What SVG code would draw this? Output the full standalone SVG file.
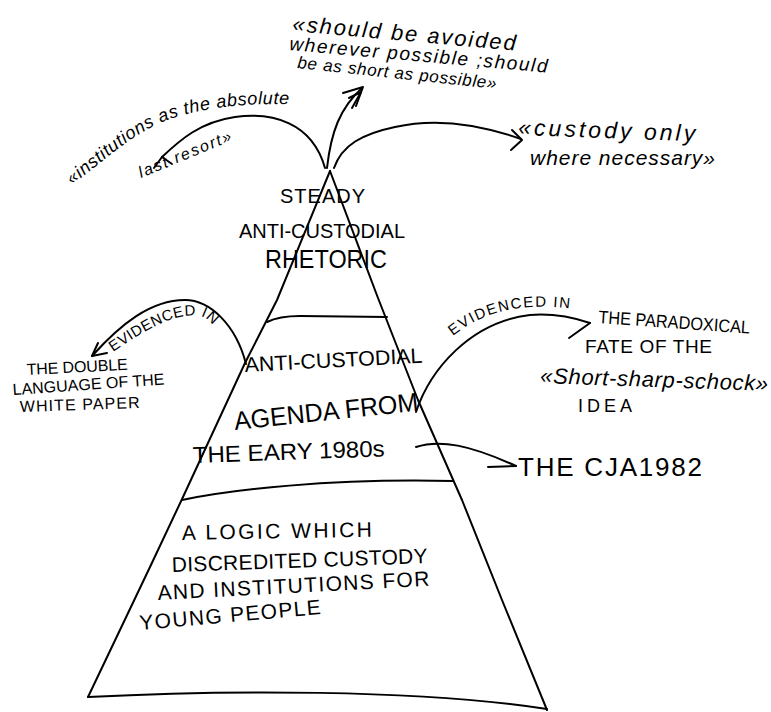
<svg xmlns="http://www.w3.org/2000/svg" width="771" height="712" viewBox="0 0 771 712">
  <style>
    .ink { fill: none; stroke: #000; stroke-width: 2; stroke-linecap: round; stroke-linejoin: round; }
    .caps { font-family: "Liberation Sans", "DejaVu Sans", sans-serif; fill: #000; }
    .hand { font-family: "Liberation Sans", "DejaVu Sans", sans-serif; font-style: italic; fill: #000; }
  </style>
  <defs>
    <path id="p-last-resort-1" d="M 72,185 C 104,161 132,133 170,119 C 209,106 255,102 302,105"/>
    <path id="p-last-resort-2" d="M 141,178 L 255,131"/>
    <path id="p-evid-left" d="M 113,352 C 145,330 175,312 200,316 C 208,318 214,325 220,336"/>
    <path id="p-evid-right" d="M 453,336 C 480,314 520,299 585,311"/>
  </defs>

  <rect width="771" height="712" fill="#fff"/>

  <!-- pyramid outline and tier dividers -->
  <g id="pyramid">
    <path class="ink" d="M 330,171 L 277,300 L 245,363 L 183,497 L 150,567 L 88,697"/>
    <path class="ink" d="M 330,171 L 378,298 L 418,400 L 462,500 L 502,600 L 547,710"/>
    <path class="ink" d="M 88,697 C 220,690 420,689 547,709"/>
    <path class="ink" d="M 267,322 Q 279,316 300,316 L 387,317"/>
    <path class="ink" d="M 182,500 C 230,490 330,478 453,481"/>
  </g>

  <!-- top tier -->
  <g id="tier-rhetoric">
    <text class="caps" x="280" y="203" font-size="20" textLength="85">STEADY</text>
    <text class="caps" x="239" y="238" font-size="20" textLength="166">ANTI-CUSTODIAL</text>
    <text class="caps" x="265" y="268" font-size="25" textLength="122" lengthAdjust="spacingAndGlyphs">RHETORIC</text>
  </g>

  <!-- middle tier -->
  <g id="tier-agenda">
    <text class="caps" x="245" y="372" font-size="21" textLength="178" lengthAdjust="spacingAndGlyphs" transform="rotate(-3 245 372)">ANTI-CUSTODIAL</text>
    <text class="caps" x="235" y="430" font-size="26" textLength="185" lengthAdjust="spacingAndGlyphs" transform="rotate(-6 235 430)">AGENDA FROM</text>
    <text class="caps" x="193" y="463" font-size="23" textLength="192" lengthAdjust="spacingAndGlyphs" transform="rotate(-2 193 463)">THE EARY 1980s</text>
  </g>

  <!-- bottom tier -->
  <g id="tier-logic">
    <text class="caps" x="182" y="540" font-size="21" textLength="190" transform="rotate(-1 182 540)">A LOGIC WHICH</text>
    <text class="caps" x="172" y="572" font-size="21" textLength="256" transform="rotate(-2 172 572)">DISCREDITED CUSTODY</text>
    <text class="caps" x="158" y="600" font-size="21" textLength="272" transform="rotate(-3 158 600)">AND INSTITUTIONS FOR</text>
    <text class="caps" x="140" y="630" font-size="21" textLength="182" transform="rotate(-5 140 630)">YOUNG PEOPLE</text>
  </g>

  <!-- quotes above the apex -->
  <g id="quote-last-resort">
    <text class="hand" font-size="18" letter-spacing="0.6"><textPath href="#p-last-resort-1">«institutions as the absolute</textPath></text>
    <text class="hand" font-size="16" letter-spacing="1.8"><textPath href="#p-last-resort-2">last resort»</textPath></text>
  </g>
  <g id="quote-avoided">
    <text class="hand" x="292" y="31" font-size="22" textLength="224" transform="rotate(5 292 31)">«should be avoided</text>
    <text class="hand" x="289" y="50" font-size="19" textLength="259" transform="rotate(5 289 50)">wherever possible ;should</text>
    <text class="hand" x="297" y="68" font-size="17" textLength="200" transform="rotate(6 297 68)">be as short as possible»</text>
  </g>
  <g id="quote-custody">
    <text class="hand" x="518" y="135" font-size="23" textLength="177" transform="rotate(2 518 135)">«custody only</text>
    <text class="hand" x="530" y="165" font-size="21" textLength="185">where necessary»</text>
  </g>

  <!-- side notes -->
  <g id="note-white-paper">
    <text class="caps" x="27" y="375" font-size="16" textLength="101" transform="rotate(-3 27 375)">THE DOUBLE</text>
    <text class="caps" x="13" y="395" font-size="16" textLength="152" transform="rotate(-4 13 395)">LANGUAGE OF THE</text>
    <text class="caps" x="20" y="412" font-size="16" textLength="120" transform="rotate(-2 20 412)">WHITE PAPER</text>
  </g>
  <g id="note-short-sharp-shock">
    <text class="caps" x="598" y="323" font-size="18" textLength="152" lengthAdjust="spacingAndGlyphs" transform="rotate(4 598 323)">THE PARADOXICAL</text>
    <text class="caps" x="585" y="353" font-size="19" textLength="127">FATE OF THE</text>
    <text class="hand" x="540" y="383" font-size="22" textLength="228" transform="rotate(2 540 383)">«Short-sharp-schock»</text>
    <text class="caps" x="578" y="412" font-size="18" textLength="54">IDEA</text>
  </g>
  <g id="note-cja">
    <text class="caps" x="518" y="476" font-size="26" textLength="184">THE CJA1982</text>
  </g>

  <!-- connectors -->
  <g id="connectors">
    <!-- apex to "should be avoided" -->
    <path class="ink" d="M 327,168 C 331,132 340,108 362,88"/>
    <path class="ink" d="M 343,93 L 363,87 L 356,106" stroke-width="2.5"/>
    <path class="ink" d="M 349,98 L 361,92 L 352,108"/>
    <!-- apex to "last resort" -->
    <path class="ink" d="M 325,168 C 312,122 272,112 235,117 C 200,122 180,140 162,157"/>
    <path class="ink" d="M 162,157 L 154,168 M 162,157 L 172,164"/>
    <!-- apex to "custody only" -->
    <path class="ink" d="M 334,168 C 342,145 362,134 395,127 C 430,119 470,121 521,139"/>
    <path class="ink" d="M 512,130 L 522,140 L 511,150"/>
    <!-- EVIDENCED IN, left -->
    <path class="ink" d="M 246,364 C 236,325 210,300 185,300 C 150,300 120,325 92,356"/>
    <path class="ink" d="M 98,343 L 92,356 L 107,353"/>
    <text class="caps" font-size="15" letter-spacing="0.5"><textPath href="#p-evid-left">EVIDENCED IN</textPath></text>
    <!-- EVIDENCED IN, right -->
    <path class="ink" d="M 416,412 C 430,370 470,322 530,315 C 555,313 575,318 590,323"/>
    <path class="ink" d="M 590,323 L 569,338"/>
    <text class="caps" font-size="15" letter-spacing="1.5"><textPath href="#p-evid-right">EVIDENCED IN</textPath></text>
    <!-- to THE CJA1982 -->
    <path class="ink" d="M 416,447 C 440,439 470,445 516,466"/>
    <path class="ink" d="M 516,466 L 488,467"/>
  </g>
</svg>
